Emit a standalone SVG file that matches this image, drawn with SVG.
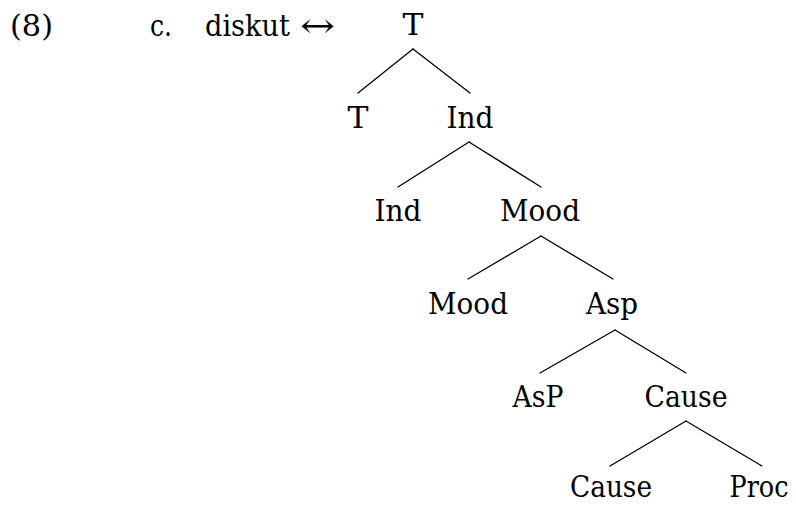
<svg xmlns="http://www.w3.org/2000/svg" width="796" height="506" viewBox="0 0 796 506">
<style>
.n{text-anchor:middle}
.e{stroke:#000;stroke-width:1.3;fill:none;stroke-linecap:round}
</style>
<rect width="796" height="506" fill="#fff"/>
<g font-family="'DejaVu Serif', serif" font-size="30" fill="#000">
<g id="label">
<text x="10" y="36" textLength="43" lengthAdjust="spacingAndGlyphs">(8)</text>
<text x="150" y="36" textLength="22" lengthAdjust="spacingAndGlyphs">c.</text>
<text x="205" y="36" textLength="85" lengthAdjust="spacingAndGlyphs">diskut</text>
<text x="300" y="37" font-size="34" textLength="35" lengthAdjust="spacingAndGlyphs">↔</text>
</g>
<g id="n_T_root"><text class="n" x="413" y="35" textLength="21" lengthAdjust="spacingAndGlyphs">T</text></g>
<g id="n_T"><text class="n" x="358" y="128" textLength="21" lengthAdjust="spacingAndGlyphs">T</text></g>
<g id="n_Ind_1"><text class="n" x="470" y="128" textLength="47" lengthAdjust="spacingAndGlyphs">Ind</text></g>
<g id="n_Ind_2"><text class="n" x="398" y="221" textLength="47" lengthAdjust="spacingAndGlyphs">Ind</text></g>
<g id="n_Mood_1"><text class="n" x="540" y="221" textLength="80" lengthAdjust="spacingAndGlyphs">Mood</text></g>
<g id="n_Mood_2"><text class="n" x="468" y="314" textLength="80" lengthAdjust="spacingAndGlyphs">Mood</text></g>
<g id="n_Asp"><text class="n" x="612" y="314" textLength="52" lengthAdjust="spacingAndGlyphs">Asp</text></g>
<g id="n_AsP"><text class="n" x="538" y="407" textLength="51" lengthAdjust="spacingAndGlyphs">AsP</text></g>
<g id="n_Cause_1"><text class="n" x="686" y="407" textLength="83" lengthAdjust="spacingAndGlyphs">Cause</text></g>
<g id="n_Cause_2"><text class="n" x="611" y="497" textLength="82" lengthAdjust="spacingAndGlyphs">Cause</text></g>
<g id="n_Proc"><text class="n" x="759" y="497" font-size="29" textLength="59" lengthAdjust="spacingAndGlyphs">Proc</text></g>
</g>
<g id="connectors">
<line class="e" x1="413" y1="49" x2="358" y2="93"/>
<line class="e" x1="413" y1="49" x2="470" y2="93"/>
<line class="e" x1="469" y1="142" x2="398" y2="187"/>
<line class="e" x1="469" y1="142" x2="541" y2="187"/>
<line class="e" x1="541" y1="236" x2="468" y2="279"/>
<line class="e" x1="541" y1="236" x2="613" y2="279"/>
<line class="e" x1="615" y1="330" x2="540" y2="373"/>
<line class="e" x1="615" y1="330" x2="686" y2="373"/>
<line class="e" x1="686" y1="421" x2="610" y2="466"/>
<line class="e" x1="686" y1="421" x2="762" y2="466"/>
</g>
</svg>
